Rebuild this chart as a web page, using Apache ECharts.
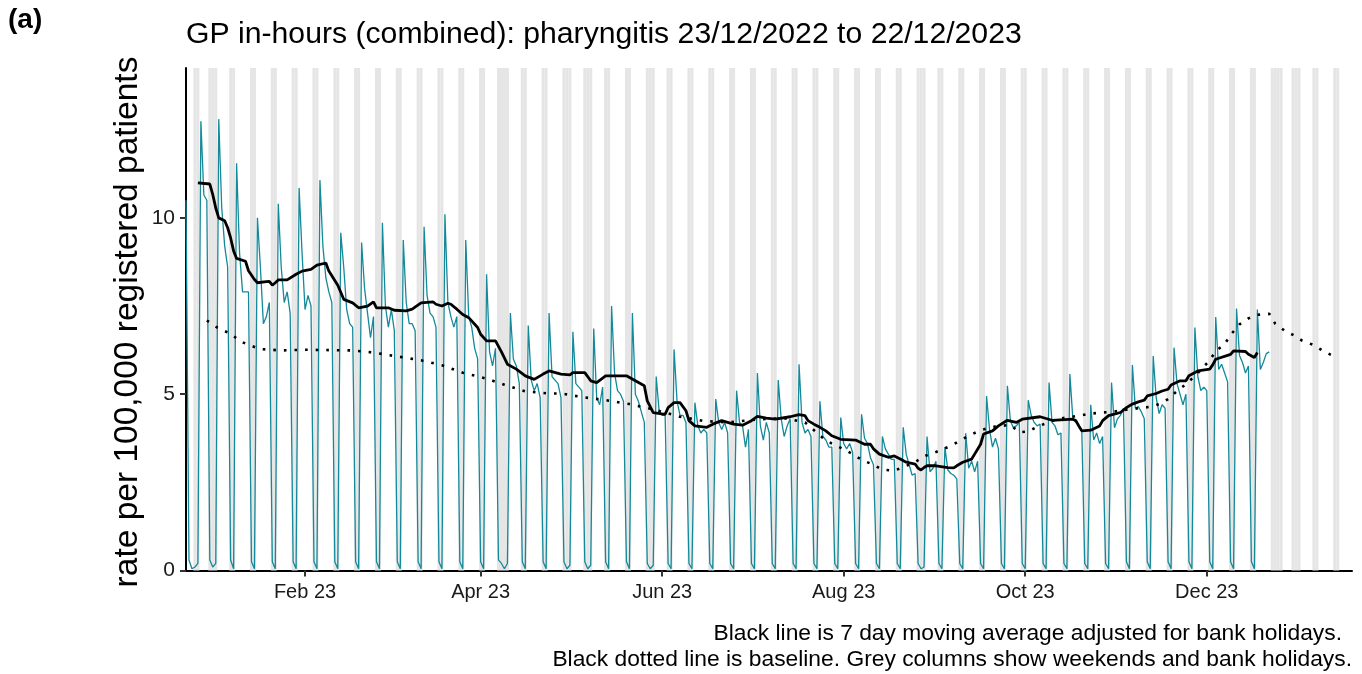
<!DOCTYPE html>
<html>
<head>
<meta charset="utf-8">
<title>GP in-hours pharyngitis</title>
<script src="https://cdn.jsdelivr.net/npm/echarts@6/dist/echarts.min.js"></script>
<style>
  html, body { margin: 0; padding: 0; background: #fff; }
  #chart { width: 1362px; height: 674px; }
</style>
</head>
<body>
<div id="chart"></div>
<script>
// daily rate per 100,000, one value per day starting Fri 23/12/2022 (rows run Sat..Fri)
const firstDay = '2022-12-23'
const rates = [
  10.5,
  0.3, 0.05, 0.1, 0.2, 12.74, 10.65, 10.5,
  0.3, 0.1, 0.2, 12.8, 10.3, 9.2, 8.6,
  0.3, 0.05, 11.55, 9.0, 7.9, 7.9, 7.9,
  0.25, 0.05, 10.0, 8.6, 7.0, 7.2, 7.6,
  0.25, 0.05, 10.4, 8.6, 7.6, 7.9, 7.3,
  0.25, 0.05, 10.85, 9.0, 7.4, 7.8, 7.5,
  0.25, 0.05, 11.07, 9.2, 8.3, 7.9, 7.6,
  0.25, 0.05, 9.58, 8.6, 7.4, 7.0, 6.9,
  0.25, 0.05, 9.3, 8.0, 7.3, 6.6, 7.2,
  0.25, 0.05, 9.86, 7.5, 6.9, 7.4, 6.8,
  0.25, 0.05, 9.37, 7.6, 7.0, 7.0, 6.8,
  0.25, 0.05, 9.75, 7.8, 7.3, 7.2, 6.9,
  0.25, 0.05, 10.1, 7.6, 7.2, 6.9, 7.2,
  0.25, 0.05, 9.37, 7.2, 6.9, 6.3, 6.0,
  0.25, 0.05, 8.4, 6.2, 5.8, 6.3, 0.3,
  0.2, 0.05, 0.2, 7.3, 6.0, 5.8, 5.3,
  0.25, 0.05, 6.95, 5.4, 5.1, 5.3, 4.9,
  0.25, 0.05, 7.3, 5.5, 5.4, 5.3, 4.9,
  0.25, 0.05, 0.15, 6.77, 5.3, 5.2, 5.1,
  0.25, 0.05, 0.15, 6.86, 4.9, 4.7, 5.2,
  0.25, 0.05, 7.5, 5.6, 5.1, 5.0, 4.8,
  0.25, 0.05, 7.3, 5.0, 4.8, 4.5, 4.2,
  0.2, 0.05, 0.15, 5.5, 4.5, 4.4, 4.4,
  0.2, 0.05, 6.27, 4.8, 4.4, 4.4, 4.2,
  0.2, 0.05, 4.76, 4.1, 3.9, 4.0, 3.9,
  0.2, 0.05, 4.86, 4.2, 4.0, 4.2, 3.9,
  0.2, 0.05, 5.1, 4.2, 4.1, 3.5, 4.0,
  0.2, 0.05, 5.6, 4.1, 3.7, 4.2, 3.9,
  0.2, 0.05, 5.4, 4.3, 3.8, 4.1, 4.3,
  0.2, 0.05, 5.85, 4.2, 3.9, 4.0, 3.8,
  0.2, 0.05, 4.8, 3.8, 3.7, 3.5, 3.5,
  0.2, 0.05, 4.34, 3.6, 3.45, 3.6, 3.35,
  0.2, 0.05, 4.43, 3.75, 3.6, 3.2, 3.0,
  0.2, 0.05, 3.8, 3.45, 3.3, 3.15, 3.15,
  0.2, 0.05, 4.06, 3.3, 3.0, 2.7, 2.75,
  0.2, 0.05, 0.1, 3.8, 2.8, 2.9, 3.1,
  0.2, 0.05, 3.5, 2.85, 2.75, 2.7, 2.6,
  0.2, 0.05, 3.89, 2.9, 3.1, 2.8, 3.1,
  0.2, 0.05, 4.95, 4.0, 3.5, 3.75, 3.45,
  0.2, 0.05, 5.24, 4.25, 4.05, 4.1, 4.2,
  0.2, 0.05, 4.83, 4.4, 4.2, 4.1, 4.15,
  0.2, 0.05, 5.33, 4.2, 4.1, 3.85, 3.9,
  0.2, 0.05, 5.57, 4.3, 4.2, 4.1, 4.0,
  0.2, 0.05, 4.7, 3.7, 3.9, 3.6, 3.8,
  0.2, 0.05, 5.33, 4.05, 4.3, 4.4, 4.6,
  0.25, 0.05, 5.83, 4.6, 4.65, 4.5, 4.3,
  0.25, 0.05, 6.08, 4.9, 4.45, 4.7, 4.6,
  0.25, 0.05, 6.32, 5.3, 5.0, 4.7, 5.0,
  0.25, 0.05, 6.89, 5.5, 5.1, 5.2, 5.1,
  0.25, 0.05, 7.19, 5.7, 5.85, 5.6, 5.35,
  0.25, 0.05, 7.43, 6.1, 5.9, 5.6, 5.8,
  0.25, 0.05, 7.4, 5.7, 5.9, 6.15, 6.2,
]

const maDay = [
  4, 8, 9, 10, 11, 13, 14, 15, 16, 17, 20, 21, 23, 24, 27, 28, 29, 30, 31, 34,
  37, 39, 42, 44, 47, 48, 51, 53, 56, 58, 61, 63, 64, 68, 70, 74, 76, 79, 83, 84,
  86, 88, 89, 91, 93, 95, 98, 99, 101, 104, 106, 108, 111, 114, 117, 118, 120, 122, 126, 129,
  130, 134, 136, 138, 141, 148, 151, 154, 155, 157, 161, 162, 164, 166, 168, 169, 171, 175, 177, 180,
  184, 187, 190, 192, 195, 198, 203, 206, 208, 209, 211, 213, 215, 217, 220, 225, 228, 230, 231, 233,
  236, 238, 240, 242, 245, 246, 247, 248, 249, 252, 256, 258, 259, 261, 264, 265, 267, 268, 271, 273,
  276, 279, 281, 287, 291, 298, 299, 300, 301, 304, 307, 308, 310, 314, 316, 318, 320, 322, 323, 326,
  328, 330, 331, 334, 336, 337, 340, 344, 345, 346, 351, 352, 356, 357, 359, 360,
]
const maRate = [
  10.99, 10.96, 10.66, 10.28, 10.0, 9.92, 9.72, 9.43, 9.06, 8.85, 8.77, 8.5, 8.25, 8.16, 8.19, 8.2, 8.09, 8.16, 8.24, 8.24,
  8.4, 8.49, 8.54, 8.66, 8.72, 8.49, 8.09, 7.69, 7.59, 7.45, 7.5, 7.62, 7.45, 7.45, 7.38, 7.36, 7.41, 7.59, 7.62, 7.55,
  7.5, 7.58, 7.55, 7.41, 7.26, 7.17, 6.89, 6.7, 6.51, 6.51, 6.2, 5.85, 5.71, 5.52, 5.42, 5.47, 5.57, 5.66, 5.57, 5.55,
  5.61, 5.61, 5.38, 5.33, 5.52, 5.52, 5.38, 5.24, 4.81, 4.48, 4.43, 4.62, 4.76, 4.76, 4.53, 4.25, 4.1, 4.06, 4.15, 4.25,
  4.15, 4.12, 4.25, 4.37, 4.32, 4.29, 4.36, 4.42, 4.39, 4.25, 4.15, 4.06, 3.96, 3.82, 3.72, 3.7, 3.58, 3.58, 3.45, 3.3,
  3.21, 3.25, 3.16, 3.07, 3.02, 2.9, 2.85, 2.92, 2.97, 2.97, 2.92, 2.91, 2.97, 3.07, 3.16, 3.3, 3.58, 3.87, 3.96, 4.1,
  4.26, 4.2, 4.29, 4.36, 4.26, 4.29, 4.25, 4.1, 3.96, 3.98, 4.1, 4.25, 4.39, 4.48, 4.62, 4.72, 4.78, 4.83, 4.95, 5.02,
  5.09, 5.14, 5.26, 5.38, 5.38, 5.52, 5.66, 5.71, 5.83, 5.99, 6.13, 6.23, 6.21, 6.13, 6.04, 6.18,
]

const baseDay = [
  7, 11, 15, 18, 21, 25, 32, 40, 48, 56, 63, 71, 79, 86, 93, 101, 107, 114, 122, 126,
  133, 141, 149, 158, 166, 174, 182, 189, 193, 201, 208, 211, 214, 217, 221, 224, 227, 231, 234, 238,
  245, 248, 252, 256, 259, 263, 266, 270, 277, 280, 283, 286, 293, 300, 304, 308, 312, 316, 320, 324,
  327, 330, 333, 336, 340, 344, 346, 349, 351, 354, 357, 360, 364, 366, 369, 372, 375, 379, 382, 386,
]
const baseRate = [
  7.09, 6.86, 6.72, 6.51, 6.4, 6.28, 6.24, 6.26, 6.25, 6.24, 6.18, 6.07, 5.96, 5.82, 5.61, 5.44, 5.27, 5.08, 5.02, 5.02,
  4.92, 4.83, 4.72, 4.55, 4.36, 4.24, 4.2, 4.26, 4.29, 4.32, 4.2, 3.98, 3.76, 3.6, 3.44, 3.3, 3.14, 3.0, 2.86, 2.83,
  3.07, 3.24, 3.36, 3.5, 3.63, 3.82, 3.94, 4.06, 4.13, 3.92, 3.94, 4.08, 4.3, 4.39, 4.45, 4.48, 4.51, 4.56, 4.6, 4.64,
  4.72, 4.86, 5.09, 5.28, 5.6, 5.96, 6.22, 6.42, 6.68, 6.98, 7.15, 7.25, 7.28, 7.0, 6.81, 6.68, 6.52, 6.39, 6.23, 6.06,
]

// grey columns: weekends plus these bank holidays, between greyFrom and greyTo
const bankHolidays = [
  '2022-12-26', '2022-12-27', '2023-01-02', '2023-04-07', '2023-04-10', '2023-05-01',
  '2023-05-08', '2023-05-29', '2023-08-28', '2023-12-25', '2023-12-26', '2024-01-01',
]
const greyFrom = '2022-12-26'
const greyTo = '2024-01-14'

const tickDates = ['2023-02-01', '2023-04-01', '2023-06-01', '2023-08-01', '2023-10-01', '2023-12-01']
const tickLabels = ['Feb 23', 'Apr 23', 'Jun 23', 'Aug 23', 'Oct 23', 'Dec 23']
const yTicks = [0, 5, 10]

const parseDay = (s) => {
  const [y, m, d] = s.split('-').map(Number)
  return new Date(y, m - 1, d)
}
const start = parseDay(firstDay)
const dayTime = (offset) =>
  new Date(start.getFullYear(), start.getMonth(), start.getDate() + offset).getTime()

const halfDay = 12 * 3600 * 1000
const axisMin = dayTime(0)
const axisMax = dayTime(391) + 0.8 * 2 * halfDay

const greyTimes = []
{
  const holidaySet = new Set(bankHolidays.map((s) => parseDay(s).getTime()))
  const end = parseDay(greyTo).getTime()
  const d = parseDay(greyFrom)
  while (d.getTime() <= end) {
    const t = d.getTime()
    if (d.getDay() === 0 || d.getDay() === 6 || holidaySet.has(t)) greyTimes.push([t, 0])
    d.setDate(d.getDate() + 1)
  }
}

const tickTimes = tickDates.map((s) => parseDay(s).getTime())
const font = '"Liberation Sans", Arial, sans-serif'

const renderGrey = (params, api) => {
  const t = api.value(0)
  const a = api.coord([t - halfDay, 0])
  const b = api.coord([t + halfDay, 0])
  const cs = params.coordSys
  return {
    type: 'rect',
    shape: { x: a[0], y: cs.y, width: b[0] - a[0], height: cs.height },
    style: { fill: '#e5e5e5' },
  }
}

const chart = echarts.init(document.getElementById('chart'))
chart.setOption({
  animation: false,
  backgroundColor: '#ffffff',
  textStyle: { fontFamily: font },
  grid: { left: 186, right: 10, top: 68, bottom: 103.5 },
  graphic: [
    {
      type: 'text',
      left: 8,
      top: 6,
      style: { text: '(a)', font: 'bold 28px ' + font, fill: '#000' },
    },
    {
      type: 'text',
      x: 186,
      y: 35,
      style: {
        text: 'GP in-hours (combined): pharyngitis 23/12/2022 to 22/12/2023',
        font: '30.2px ' + font,
        fill: '#000',
        textAlign: 'left',
        textVerticalAlign: 'middle',
      },
    },
    {
      type: 'text',
      x: 128,
      y: 322,
      rotation: Math.PI / 2,
      style: {
        text: 'rate per 100,000 registered patients',
        font: '33.5px ' + font,
        fill: '#000',
        textAlign: 'center',
        textVerticalAlign: 'middle',
      },
    },
    {
      type: 'text',
      x: 1342,
      y: 634,
      style: {
        text: 'Black line is 7 day moving average adjusted for bank holidays.',
        font: '22.8px ' + font,
        fill: '#000',
        textAlign: 'right',
        textVerticalAlign: 'middle',
      },
    },
    {
      type: 'text',
      x: 1352,
      y: 660,
      style: {
        text: 'Black dotted line is baseline. Grey columns show weekends and bank holidays.',
        font: '22.8px ' + font,
        fill: '#000',
        textAlign: 'right',
        textVerticalAlign: 'middle',
      },
    },
  ],
  xAxis: {
    // timestamps on a value axis, so the month ticks can be placed exactly
    type: 'value',
    min: axisMin,
    max: axisMax,
    axisLine: { lineStyle: { color: '#000', width: 2 } },
    axisTick: { customValues: tickTimes, length: 6, lineStyle: { color: '#333', width: 2 } },
    axisLabel: {
      customValues: tickTimes,
      margin: 12,
      fontSize: 20,
      color: '#1a1a1a',
      fontFamily: font,
      formatter: (value) => {
        const i = tickTimes.indexOf(value)
        return i >= 0 ? tickLabels[i] : ''
      },
    },
    splitLine: { show: false },
  },
  yAxis: {
    type: 'value',
    min: 0,
    max: 14.25,
    axisLine: { show: true, lineStyle: { color: '#000', width: 2 } },
    axisTick: { show: true, customValues: yTicks, length: 6, lineStyle: { color: '#333', width: 2 } },
    axisLabel: { customValues: yTicks, margin: 11, fontSize: 21, color: '#1a1a1a', fontFamily: font },
    splitLine: { show: false },
  },
  series: [
    {
      name: 'weekends',
      type: 'custom',
      renderItem: renderGrey,
      data: greyTimes,
      silent: true,
      z: 1,
    },
    {
      name: 'rate',
      type: 'line',
      symbol: 'none',
      data: rates.map((v, i) => [dayTime(i), v]),
      lineStyle: { color: '#14899a', width: 1.3 },
      z: 2,
    },
    {
      name: 'baseline',
      type: 'line',
      symbol: 'none',
      data: baseDay.map((d, i) => [dayTime(d), baseRate[i]]),
      lineStyle: { color: '#000', width: 2.6, type: [2.6, 8], cap: 'butt' },
      z: 3,
    },
    {
      name: 'moving average',
      type: 'line',
      symbol: 'none',
      data: maDay.map((d, i) => [dayTime(d), maRate[i]]),
      lineStyle: { color: '#000', width: 2.8 },
      z: 4,
    },
  ],
})
</script>
</body>
</html>
